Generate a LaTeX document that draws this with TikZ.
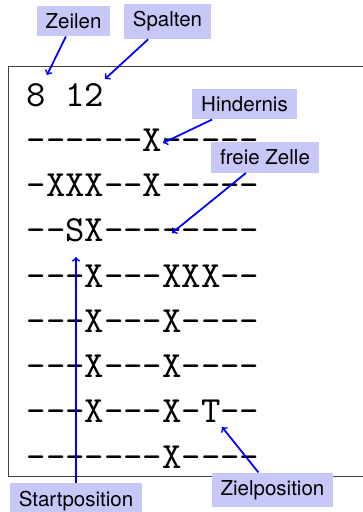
\documentclass[tikz,border=0pt]{standalone}
\usepackage{fontspec}
\newfontfamily\etikettfont{TeX Gyre Heros}
\newfontfamily\rasterfont{lmmono10-regular.otf}[Ligatures=TeXOff]
\definecolor{etikettblau}{RGB}{200,200,248}
\tikzset{
  etikett/.style={fill=etikettblau, inner xsep=7.7pt, inner ysep=6.5pt, font=\etikettfont\fontsize{17.5}{20}\selectfont},
  pfeil/.style={->, blue, line width=1.5pt},
  zeile/.style={anchor=base west, inner sep=0pt, font=\rasterfont\fontsize{31.5}{36}\selectfont}
}
\begin{document}
\begin{tikzpicture}[x=0.3mm,y=-0.3mm]
\useasboundingbox (0,0) rectangle (363,512);
\draw[black!75, line width=0.8pt] (8,66) rectangle (370,476);
% Datei: erste Zeile Groesse, dann das Feld
\foreach \zeile [count=\i from 0] in {8 12,------X-----,-XXX--X-----,--SX--------,---X---XXX--,---X---X----,---X---X----,---X---X-T--,-------X----}
  \node[zeile] (z\i) at (26.5,106+45.25*\i) {\zeile};
% Ziele der Pfeile
\coordinate (pzeilen) at (47,75);
\coordinate (pspalten) at (105,79);
\coordinate (phindernis) at (163,143);
\coordinate (pfrei) at (172,233);
\coordinate (pstart) at (76,257);
\coordinate (pziel) at (222,427);
\node[etikett] (zeilen) at (73.5,21) {Zeilen};
\node[etikett] (spalten) at (167.5,21.5) {Spalten};
\node[etikett] (hindernis) at (244.5,104) {Hindernis};
\node[etikett] (frei) at (265,157.5) {freie Zelle};
\node[etikett] (start) at (76,501) {Startposition};
\node[etikett] (ziel) at (272.5,490) {Zielposition};
\draw[pfeil] (zeilen) -- (pzeilen);
\draw[pfeil] (spalten) -- (pspalten);
\draw[pfeil] (hindernis) -- (phindernis);
\draw[pfeil] (frei) -- (pfrei);
\draw[pfeil] (start) -- (pstart);
\draw[pfeil] (ziel) -- (pziel);
\end{tikzpicture}
\end{document}
